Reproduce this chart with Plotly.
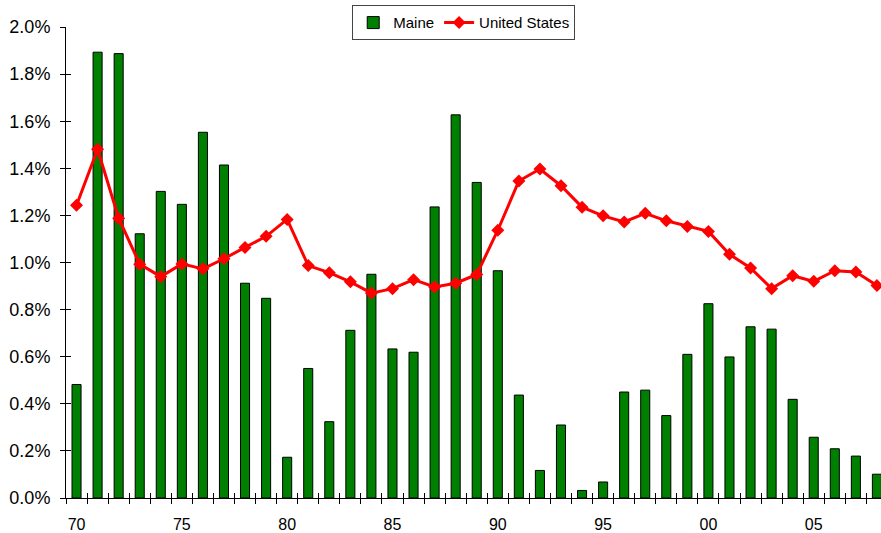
import plotly.graph_objects as go

years = list(range(1970, 2009))
maine = [0.482, 1.893, 1.887, 1.122, 1.302, 1.247, 1.553, 1.414, 0.912, 0.848,
         0.173, 0.550, 0.324, 0.712, 0.950, 0.633, 0.619, 1.236, 1.627, 1.340,
         0.965, 0.437, 0.117, 0.310, 0.032, 0.068, 0.450, 0.458, 0.350, 0.610,
         0.825, 0.599, 0.727, 0.717, 0.419, 0.258, 0.209, 0.178, 0.101]
us = [1.243, 1.481, 1.188, 0.993, 0.940, 0.994, 0.973, 1.016, 1.064, 1.111,
      1.183, 0.987, 0.957, 0.918, 0.870, 0.889, 0.927, 0.896, 0.912, 0.949,
      1.137, 1.346, 1.397, 1.326, 1.235, 1.198, 1.172, 1.209, 1.177, 1.153,
      1.132, 1.035, 0.977, 0.889, 0.944, 0.920, 0.965, 0.960, 0.902]
label_years = [1970, 1975, 1980, 1985, 1990, 1995, 2000, 2005]
label_text = ["70", "75", "80", "85", "90", "95", "00", "05"]
y_ticks = [0.0, 0.2, 0.4, 0.6, 0.8, 1.0, 1.2, 1.4, 1.6, 1.8, 2.0]
y_text = ["0.0%", "0.2%", "0.4%", "0.6%", "0.8%", "1.0%", "1.2%", "1.4%",
          "1.6%", "1.8%", "2.0%"]

x_range = [years[0] - 0.5, years[0] - 0.5 + (881 - 66.5) / 21.05]
half_ticks = [y - 0.5 for y in years] + [years[-1] + 0.5]

fig = go.Figure()
fig.add_trace(go.Bar(x=years, y=maine, name="Maine", width=0.43,
                     marker=dict(color="#008000", line=dict(color="black", width=1))))
fig.add_trace(go.Scatter(x=years, y=us, name="United States", mode="lines+markers",
                         line=dict(color="#ff0000", width=3),
                         marker=dict(symbol="diamond", size=10, color="#ff0000")))
# helper overlay trace (invisible) to carry the inside-tick axes
fig.add_trace(go.Scatter(x=years, y=us, xaxis="x2", yaxis="y2", mode="lines",
                         opacity=0, showlegend=False, hoverinfo="skip"))

font = "Liberation Sans, Arial, sans-serif"
fig.update_layout(
    width=881, height=533,
    margin=dict(l=66, r=0, t=27, b=32),
    paper_bgcolor="white", plot_bgcolor="white",
    font=dict(family=font, color="black"),
    showlegend=True,
    legend=dict(orientation="h", x=0.488, xanchor="center", y=1.046, yanchor="top",
                bordercolor="#444", borderwidth=1, bgcolor="white",
                font=dict(size=15, family=font), itemwidth=30,
                tracegroupgap=0),
    xaxis=dict(range=x_range, showgrid=False, zeroline=False,
               showline=True, linecolor="black", linewidth=1,
               tickvals=label_years, ticktext=label_text, ticks="",
               tickfont=dict(size=16), ticklabelstandoff=12,
               minor=dict(tickvals=half_ticks, ticks="outside", ticklen=5,
                          tickcolor="black", tickwidth=1, showgrid=False)),
    yaxis=dict(range=[0, 2.0], showgrid=False, zeroline=False,
               showline=True, linecolor="black", linewidth=1,
               tickvals=y_ticks, ticktext=y_text,
               ticks="outside", ticklen=5, tickcolor="black",
               tickfont=dict(size=18), ticklabelstandoff=6),
    xaxis2=dict(range=x_range, overlaying="x", anchor="y", side="bottom",
                showgrid=False, zeroline=False, showline=False,
                tickvals=half_ticks, ticks="inside", ticklen=5, tickcolor="black",
                showticklabels=False),
    yaxis2=dict(range=[0, 2.0], overlaying="y", anchor="x", side="left",
                showgrid=False, zeroline=False, showline=False,
                tickvals=y_ticks, ticks="inside", ticklen=5, tickcolor="black",
                showticklabels=False),
)

fig.write_html("out.html", config={"displayModeBar": False},
               post_script="document.body.style.margin='0';document.body.style.overflow='hidden';")
